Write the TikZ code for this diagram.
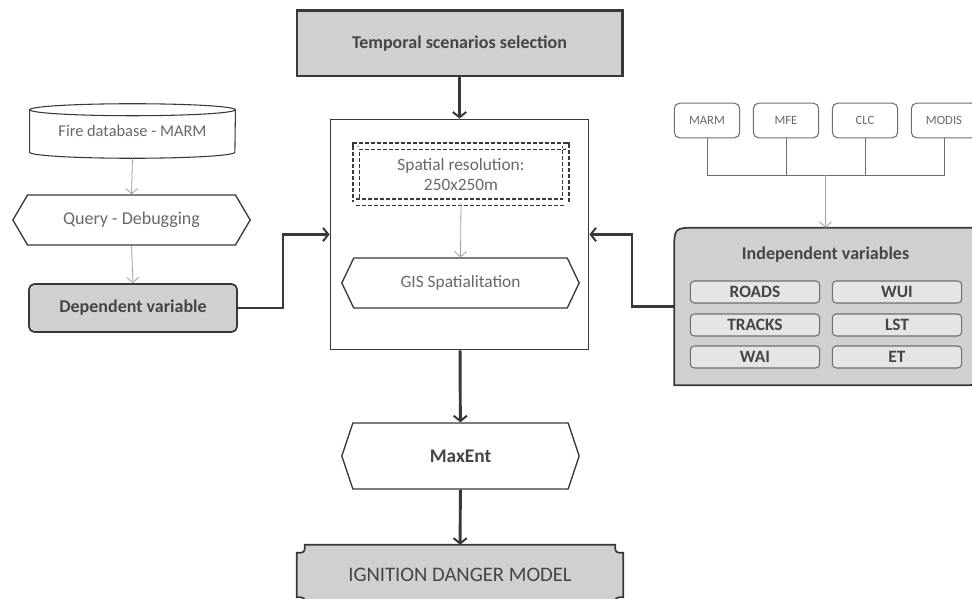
\documentclass[tikz,border=0pt]{standalone}
\usepackage{fontspec}
\setmainfont{Carlito}
\usetikzlibrary{arrows.meta, shapes.symbols, backgrounds}
\definecolor{boxgray}{HTML}{D0D0D0}
\definecolor{linedark}{HTML}{383838}
\definecolor{linemid}{HTML}{6E6E6E}
\definecolor{linelight}{HTML}{A0A0A0}
\definecolor{textdark}{HTML}{454545}
\definecolor{textlight}{HTML}{686868}
\tikzset{
  bigarrow/.style={-{Straight Barb[length=4pt,width=10pt,line width=1.5pt]}, line width=2.2pt, color=linedark},
  smallarrow/.style={-{Straight Barb[length=4pt,width=9pt]}, line width=0.6pt, color=linelight},
  busline/.style={line width=0.7pt, color=linemid},
  hexbox/.style={draw=linedark, line width=1pt, shape=signal, signal to=west and east, inner sep=0pt, text=textlight, font=\fontsize{13}{15}\selectfont},
  graybox/.style={draw=linedark, fill=boxgray, line width=1.3pt, inner sep=0pt, text=textdark, font=\fontsize{13.5}{15}\selectfont\bfseries},
  sourcebox/.style={draw=linemid, rounded corners=4pt, line width=0.8pt, minimum width=49pt, minimum height=26pt, inner sep=0pt, text=textlight, font=\fontsize{9.5}{11}\selectfont},
  varbox/.style={draw=linemid, fill=boxgray!55, rounded corners=3pt, line width=0.8pt, minimum width=97pt, minimum height=16.5pt, inner sep=0pt, text=textdark, font=\fontsize{13}{14}\selectfont\bfseries}
}

\begin{document}
\begin{tikzpicture}[x=0.75pt, y=-0.75pt]
    \useasboundingbox (0,0) rectangle (972,599);
    % centre block
    \node[draw=linedark, line width=0.8pt, minimum width=194pt, minimum height=173pt, inner sep=0pt] (gisbox) at (459.5,234.5) {};
    \node[graybox, line width=2pt, minimum width=244pt, minimum height=49pt] (temporal) at (459.5,43.5) {Temporal scenarios selection};
    \node[draw=linedark, line width=1pt, dash pattern=on 3pt off 1.5pt, double, double distance=4pt, minimum width=157pt, minimum height=42pt, inner sep=0pt, align=center, text=textlight, font=\fontsize{13}{15}\selectfont] (spatres) at (461,174.5) {Spatial resolution:\\250x250m};
    \node[hexbox, signal pointer angle=129, minimum width=178pt, minimum height=37.5pt] (gis) at (460.5,283) {GIS Spatialitation};
    \node[hexbox, signal pointer angle=143, minimum width=178pt, minimum height=49.5pt, text=textdark, font=\fontsize{14.5}{16}\selectfont\bfseries] (maxent) at (460.5,456) {MaxEnt};
    \node[minimum width=244.5pt, minimum height=45pt, inner sep=0pt, text=textdark, font=\fontsize{15.5}{17}\selectfont] (ignition) at (460,575) {IGNITION DANGER MODEL};

    % left column
    \node[minimum width=154pt, minimum height=40.5pt, inner sep=0pt, text=textlight, font=\fontsize{12.3}{14}\selectfont] (firedb) at (132.5,131) {Fire database - MARM};
    \node[hexbox, signal pointer angle=119, minimum width=178pt, minimum height=37.5pt, font=\fontsize{13.5}{15}\selectfont] (query) at (131.5,220) {Query - Debugging};
    \node[graybox, rounded corners=4pt, minimum width=156pt, minimum height=36pt] (depvar) at (133,308) {Dependent variable};

    % right column
    \coordinate (bus) at (825.5,175);
    \foreach \name/\lbl/\x in {marm/MARM/707, mfe/MFE/786, clc/CLC/865, modis/MODIS/944} {
        \node[sourcebox] (\name) at (\x,120.5) {\lbl};
        \draw[busline] (\name.south) |- (bus);
    }
    \node[minimum width=226.5pt, minimum height=117.75pt, inner sep=0pt] (indep) at (825.5,306.5) {};
    \node[text=textdark, font=\fontsize{13.5}{15}\selectfont\bfseries] (indeptitle) at (825.5,255) {Independent variables};
    \foreach \name/\lbl/\x/\y in {roads/ROADS/755/292, wui/WUI/897/292, tracks/TRACKS/755/325, lst/LST/897/325, wai/WAI/755/357, et/ET/897/357}
        \node[varbox] (\name) at (\x,\y) {\lbl};

    % outlines drawn from the anchors
    \begin{scope}[on background layer]
        \draw[linedark, line width=0.8pt, fill=white] ([yshift=-4.5pt]firedb.north west) -- ([yshift=4.5pt]firedb.south west) arc[start angle=180, end angle=360, x radius=77pt, y radius=4.5pt] -- ([yshift=-4.5pt]firedb.north east);
        \draw[linedark, line width=0.8pt] ([yshift=-4.5pt]firedb.north) ellipse[x radius=77pt, y radius=4.5pt];
        \draw[linedark, line width=1.3pt, fill=boxgray] ([xshift=6pt]ignition.north west) -- ([xshift=-6pt]ignition.north east) .. controls ([xshift=-6pt,yshift=-6pt]ignition.north east) .. ([yshift=-6pt]ignition.north east) -- ([yshift=6pt]ignition.south east) .. controls ([xshift=-6pt,yshift=6pt]ignition.south east) .. ([xshift=-6pt]ignition.south east) -- ([xshift=6pt]ignition.south west) .. controls ([xshift=6pt,yshift=6pt]ignition.south west) .. ([yshift=6pt]ignition.south west) -- ([yshift=-6pt]ignition.north west) .. controls ([xshift=6pt,yshift=-6pt]ignition.north west) .. cycle;
        \draw[linedark, line width=1.3pt, fill=boxgray] (indep.south west) -- ([yshift=-17pt]indep.north west) .. controls (indep.north west) .. ([xshift=17pt]indep.north west) -- (indep.north east) -- ([yshift=10pt]indep.south east) .. controls (indep.south east) .. ([xshift=-10pt]indep.south east) -- cycle;
    \end{scope}

    % connectors
    \coordinate (lbend) at (283,0);
    \coordinate (rbend) at (632,0);
    \draw[bigarrow] (temporal) -- (gisbox);
    \draw[bigarrow] (gisbox) -- (maxent);
    \draw[bigarrow] (maxent) -- (ignition);
    \draw[bigarrow] (depvar.east) -| (lbend |- gisbox.west) -- (gisbox.west);
    \draw[bigarrow] (indep.west) -| (rbend |- gisbox.east) -- (gisbox.east);
    \draw[smallarrow] (spatres.south) -- (gis.north);
    \draw[smallarrow] (firedb.south) -- (query.north);
    \draw[smallarrow] (query.south) -- (depvar.north);
    \draw[smallarrow] (bus) -- (indep.north);
\end{tikzpicture}
\end{document}
